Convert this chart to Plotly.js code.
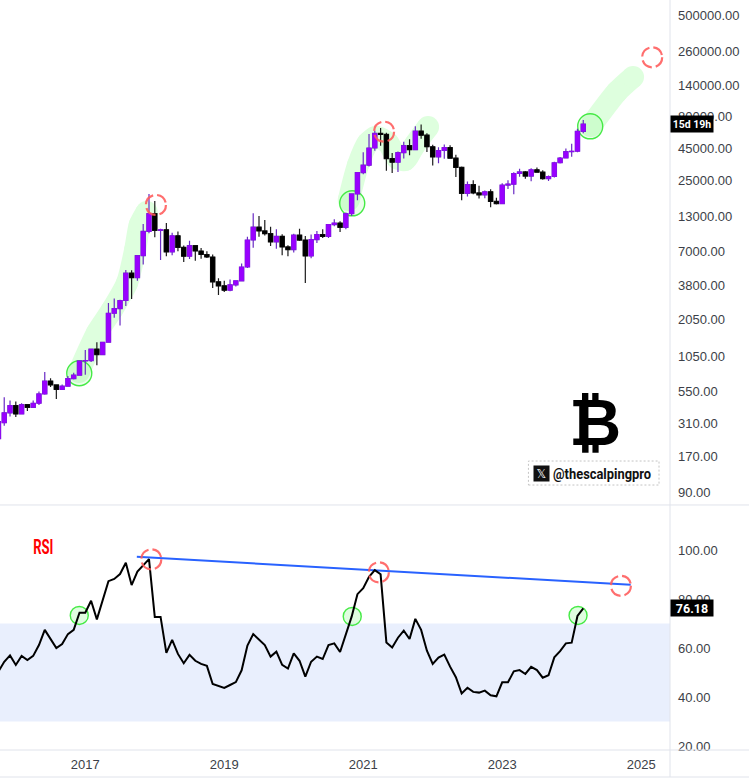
<!DOCTYPE html>
<html><head><meta charset="utf-8">
<script src="https://cdn.plot.ly/plotly-3.0.1.min.js"></script>
<style>html,body{margin:0;padding:0;background:#fff}#c{width:749px;height:781px}</style></head>
<body><div id="c"></div>
<script>
// Monthly candles, Oct 2015 - Mar 2024
const firstMonthIndex = -15; // Oct 2015 relative to Jan 2017
const opens = [236,315,377,
 430,369,437,416,448,530,670,624,575,610,700,745,
 963,970,1190,1080,1350,2280,2480,2870,4700,4340,6450,10000,
 13800,10200,10300,6920,9240,7490,6390,7730,7020,6590,6300,4020,
 3740,3460,3810,4100,5260,8570,10800,10100,9600,8290,9150,7560,
 7200,9350,8550,6420,8630,9450,9140,11330,11650,10780,13800,19700,
 29000,33100,45200,58800,57700,37300,35000,41500,47100,43800,61300,57000,
 46200,38500,43200,45500,37600,31800,19900,23300,20050,19400,20500,17200,
 16550,23100,23500,28500,29300,27200,30450,29200,26000,27000,34600,37700,
 42300,42600,61100];
const highs = [335,500,470,
 462,448,440,470,553,789,704,627,628,735,778,965,
 1172,1200,1350,1350,2743,2980,2915,4980,4970,6530,11450,19700,
 17300,10500,11650,9750,10000,7760,8450,7750,7400,7000,6600,4300,
 4100,4200,4100,5600,9100,13900,13200,12300,10900,10400,9500,7800,
 9600,10500,9200,9450,10100,10400,11400,12480,12050,14100,19900,29300,
 41900,58300,61800,64900,59500,41300,42400,50500,52900,67000,69000,59000,
 47900,45800,48200,47400,40000,32400,24700,25200,22800,21000,21400,18400,
 23900,25200,29200,31000,29800,31400,31800,30200,27500,35200,38400,44700,
 48900,64000,75000];
const lows = [230,299,352,
 350,365,390,415,435,523,600,484,574,605,690,745,
 750,944,890,1070,1350,2100,1830,2600,2950,4100,5500,9700,
 9000,5970,6400,6500,7000,5750,6070,5880,6100,6200,3600,3170,
 3350,3400,3700,4070,5170,7450,9100,9300,7700,7300,6500,6400,
 6850,8400,3940,6150,8100,8900,8900,11000,9900,10400,13200,17600,
 28100,32300,43000,47000,30000,28800,29300,37300,39600,43300,53500,42000,
 33000,34300,37200,37600,26700,17600,18800,19600,18100,18200,15500,16300,
 16500,21500,19600,26900,25900,24800,29500,25400,24900,26500,34100,37600,
 38500,41900,59000];
const closes = [321,377,430,
 369,437,416,448,530,670,624,575,610,700,745,963,
 970,1190,1080,1350,2280,2480,2870,4700,4340,6450,10000,13800,
 10200,10300,6920,9240,7490,6390,7730,7020,6590,6300,4020,3740,
 3460,3810,4100,5260,8570,10800,10100,9600,8290,9150,7560,7200,
 9350,8550,6420,8630,9450,9140,11330,11650,10780,13800,19700,29000,
 33100,45200,58800,57700,37300,35000,41500,47100,43800,61300,57000,46200,
 38500,43200,45500,37600,31800,19900,23300,20050,19400,20500,17200,16550,
 23100,23500,28500,29300,27200,30450,29200,26000,27000,34600,37700,42300,
 42600,61100,69700];
const rsi = [50.4,54.4,57.0,53.1,56.8,55.1,56.8,61.2,67.4,63.7,60.0,61.6,65.7,67.4,74.4,
 74.4,79.3,71.7,79.3,87.3,88.2,90.2,94.8,85.7,91.2,93.9,96.3,
 72.7,72.7,58.0,63.3,57.6,53.8,57.2,54.8,53.5,52.7,45.3,44.5,
 43.7,44.9,46.1,50.9,61.0,65.7,63.3,61.2,56.5,58.5,53.1,51.6,
 57.8,54.8,48.3,54.4,56.5,55.5,61.2,61.9,58.4,65.3,72.8,82.0,
 84.4,89.1,91.8,90.1,62.3,60.2,64.2,67.1,63.7,71.9,67.4,58.9,
 53.5,56.1,57.3,52.4,48.1,41.5,43.8,42.1,41.8,42.6,40.7,40.3,
 46.0,46.0,50.5,51.0,49.4,52.3,51.0,47.9,48.9,56.2,58.7,61.9,
 62.2,73.1,76.18];
const priceTicks = [500000,260000,140000,80000,45000,25000,13000,7000,3800,2050,1050,550,310,170,90];
const rsiTicks = [100,80,60,40,20];
const yearTicks = [0,24,48,72,96];
const yearLabels = ['2017','2019','2021','2023','2025'];

// Green highlight paths on the price panel (month index, price)
const band1X=[-1.1,2.0,4.6,7.2,8.6,9.4,10.6], band1Y=[789,1596,2415,3936,7145,11250,14220];
const band2X=[45.5,47.1,48.8,50.2,52.3,53.8,55.2,56.9,59.2], band2Y=[17660,33260,49430,55080,49430,37760,36390,47750,66070];
const band3X=[87.3,91.8,94.6], band3Y=[67300,124400,163000];
// Marker rings (month index, value)
const ringGreenPriceX=[-1.04,46.1,87.2], ringGreenPriceY=[771,16630,66880];
const ringRedPriceX=[12.2,51.6,97.9], ringRedPriceY=[16140,60700,232800];
const ringGreenRsiX=[-1.04,46.1,85.1], ringGreenRsiY=[73.3,72.9,73.3];
const ringRedRsiX=[11.4,50.7,92.5], ringRedRsiY=[96.2,90.9,85.4];
const trendX=[8.9,94.2], trendY=[97.27,85.84];
const rsiBand=[30,70];

const logRange=[1.853,5.8167], splitY=0.3267;
const idx = opens.map((_,i)=>firstMonthIndex+i);
const priceToPaper=v=>splitY+(Math.log10(v)-logRange[0])/(logRange[1]-logRange[0])*(1-splitY);
const bandCol='#deffde';
const bandTrace=(x,y)=>({type:'scatter',mode:'lines+markers',x,y,xaxis:'x',yaxis:'y',
  line:{color:bandCol,width:22,shape:'spline',smoothing:0.7},marker:{color:bandCol,size:22},hoverinfo:'skip'});
const ringMarker=(x,y,yaxis,size,alpha)=>({type:'scatter',mode:'markers',x,y,xaxis:'x',yaxis,hoverinfo:'skip',
  marker:{symbol:'circle',size,color:`rgba(60,240,60,${alpha})`,line:{color:'#45ea45',width:1.4}}});
const bull='#9900ff', bear='#000000';
const traces=[
  bandTrace(band1X,band1Y),bandTrace(band2X,band2Y),bandTrace(band3X,band3Y),
  ringMarker(ringGreenPriceX,ringGreenPriceY,'y',25,0.1),
  {type:'candlestick',x:idx,open:opens,high:highs,low:lows,close:closes,xaxis:'x',yaxis:'y3',
   increasing:{line:{color:'#6a2bc4',width:1.2},fillcolor:bull},
   decreasing:{line:{color:'#1c1c1c',width:1.2},fillcolor:bear},hoverinfo:'skip'},
  {type:'candlestick',x:idx,open:opens,close:closes,
   high:opens.map((o,i)=>Math.max(o,closes[i])),low:opens.map((o,i)=>Math.min(o,closes[i])),xaxis:'x',yaxis:'y3',
   increasing:{line:{color:bull,width:0.4},fillcolor:bull},
   decreasing:{line:{color:bear,width:0.4},fillcolor:bear},hoverinfo:'skip'},
  ringMarker(ringGreenRsiX,ringGreenRsiY,'y2',18,0.16),
  {type:'scatter',mode:'lines',x:trendX,y:trendY,xaxis:'x',yaxis:'y2',line:{color:'#2962ff',width:2},hoverinfo:'skip'},
  {type:'scatter',mode:'lines',x:idx,y:rsi,xaxis:'x',yaxis:'y2',line:{color:'#000',width:2},hoverinfo:'skip'}
];
const font='Roboto, sans-serif';
const redRing=(x,yVal,yref,r)=>({type:'circle',xref:'x',yref,xsizemode:'pixel',ysizemode:'pixel',xanchor:x,yanchor:yVal,
  x0:-r,x1:r,y0:-r,y1:r,layer:'above',fillcolor:'rgba(0,0,0,0)',
  line:{color:'rgba(255,90,90,0.88)',width:2.2,dash:'12px 4px'}});
const grey='#e0e3eb';
const pLine=(x0,y0,x1,y1)=>({type:'line',xref:'paper',yref:'paper',x0,y0,x1,y1,line:{color:grey,width:1},layer:'above'});
const shapes=[
  {type:'rect',xref:'paper',yref:'y2',x0:0,x1:1,y0:rsiBand[0],y1:rsiBand[1],fillcolor:'#e9effd',line:{width:0},layer:'below'},
  ...ringRedPriceX.map((x,i)=>redRing(x,priceToPaper(ringRedPriceY[i]),'paper',10)),
  ...ringRedRsiX.map((x,i)=>redRing(x,ringRedRsiY[i],'y2',10)),
  pLine(0,splitY,1.118,splitY),pLine(0,0,1.118,0),pLine(1,-0.036,1,1),pLine(0,-0.036,1.118,-0.036),
  {type:'rect',xref:'paper',yref:'paper',x0:0.7887,x1:0.9836,y0:0.3533,y1:0.3853,fillcolor:'rgba(0,0,0,0)',line:{color:'#c4c4c4',width:1,dash:'2px 2px'},layer:'above'}
];
const annotations=[
  {xref:'paper',yref:'y3',x:1,y:Math.log10(69200),xanchor:'left',yanchor:'middle',text:'<b>15d 19h</b>',showarrow:false,
   bgcolor:'#000',font:{family:font,size:10.5,color:'#fff'},width:42,height:16,align:'center',borderpad:0},
  {xref:'paper',yref:'y2',x:1,y:76.18,xanchor:'left',yanchor:'middle',text:'<b>76.18</b>',showarrow:false,
   bgcolor:'#000',font:{family:font,size:12.5,color:'#fff'},width:42,height:16,align:'center',borderpad:0},
  {xref:'paper',yref:'paper',x:43.5/670,y:(750-546.5)/750,xanchor:'center',yanchor:'middle',text:'<b>RSI</b>',showarrow:false,
   font:{family:font,size:21,color:'#ff0000'}},
  {xref:'paper',yref:'paper',x:595/670,y:(750-423)/750,xanchor:'center',yanchor:'middle',text:'<b>₿</b>',showarrow:false,
   font:{family:'"DejaVu Sans", sans-serif',size:64,color:'#000'}},
  {xref:'paper',yref:'paper',x:533/670,y:(750-473.5)/750,xanchor:'left',yanchor:'middle',text:'𝕏',showarrow:false,
   bgcolor:'#111',width:15,height:15,borderpad:0,font:{family:'"DejaVu Sans", sans-serif',size:12,color:'#fff'}},
  {xref:'paper',yref:'paper',x:602/670,y:(750-473.5)/750,xanchor:'center',yanchor:'middle',text:'<b>@thescalpingpro</b>',showarrow:false,
   font:{family:font,size:15,color:'#111'}}
];
const tickFont={family:'"Liberation Sans", sans-serif',size:13,color:'#3c3f48'};
const layout={
  width:749,height:781,margin:{l:0,r:79,t:0,b:31,pad:0},paper_bgcolor:'#fff',plot_bgcolor:'rgba(0,0,0,0)',
  showlegend:false,hovermode:false,boxmode:'overlay',boxgap:0.26,boxgroupgap:0,
  xaxis:{type:'linear',range:[-14.73,100.98],anchor:'y2',showgrid:false,zeroline:false,showline:false,
    rangeslider:{visible:false},tickmode:'array',tickvals:yearTicks,ticktext:yearLabels,ticks:'',tickfont:tickFont,ticklabelstandoff:5},
  yaxis:{type:'log',domain:[splitY,1],range:logRange,side:'right',anchor:'x',showgrid:false,zeroline:false,showline:false,
    tickmode:'array',tickvals:priceTicks,ticktext:priceTicks.map(v=>v.toFixed(2)),ticks:'',tickfont:tickFont,ticklabelstandoff:7},
  yaxis3:{type:'log',domain:[splitY,1],range:logRange,overlaying:'y',side:'right',anchor:'x',visible:false,showgrid:false,zeroline:false},
  yaxis2:{type:'linear',domain:[0,splitY],range:[18.37,118.4],side:'right',anchor:'x',showgrid:false,zeroline:false,showline:false,
    tickmode:'array',tickvals:rsiTicks,ticktext:rsiTicks.map(v=>v.toFixed(2)),ticks:'',tickfont:tickFont,ticklabelstandoff:7},
  shapes,annotations
};
Plotly.newPlot('c',traces,layout,{displayModeBar:false,staticPlot:true}).then(gd=>{
  // The reference's watermark texts are condensed: squeeze them horizontally about their centres.
  const squeeze={'RSI':0.62,'@thescalpingpro':0.86};
  gd.querySelectorAll('.annotation-text').forEach(t=>{
    const s=squeeze[t.textContent];
    if(!s) return;
    const x=parseFloat(t.getAttribute('x'))||0;
    t.setAttribute('transform',`translate(${x*(1-s)},0) scale(${s},1)`);
  });
});
</script></body></html>
